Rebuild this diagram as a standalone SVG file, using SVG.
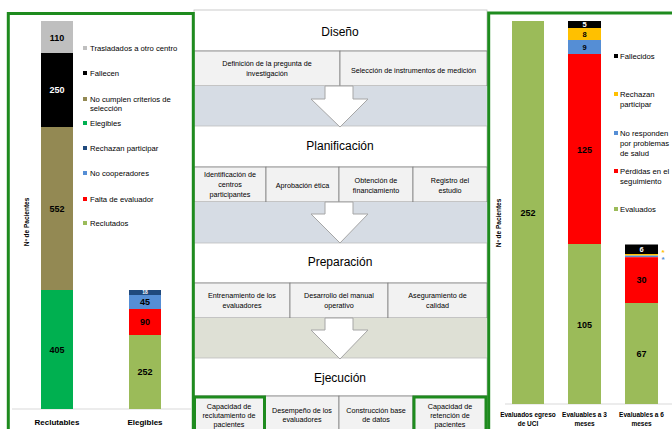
<svg xmlns="http://www.w3.org/2000/svg" width="672" height="429" viewBox="0 0 672 429">
<style>
text{font-family:"Liberation Sans",Arial,sans-serif;fill:#000}
.lg{font-size:7.7px}
.cell{font-size:7.2px;text-anchor:middle}
.ttl{font-size:12px;text-anchor:middle}
.num{font-size:9px;font-weight:bold;text-anchor:middle}
.cat{font-size:8px;font-weight:bold;text-anchor:middle}
.cat2{font-size:6.5px;font-weight:bold;text-anchor:middle}
.ax{font-size:6.5px;font-weight:bold;text-anchor:middle}
.w{fill:#fff}
.ast{font-size:8px;font-weight:bold;text-anchor:middle}
.ao{fill:#FFC000}
.ab{fill:#558ED5}
.box{fill:#F2F2F2;stroke:#7F7F7F;stroke-width:0.8}
.hdr{fill:#fff;stroke:#BFBFBF;stroke-width:0.8}
.arr{fill:#fff;stroke:#A6A6A6;stroke-width:1}
.gb{fill:none;stroke:#1E8B1E;stroke-width:3}
.axis{stroke:#D9D9D9;stroke-width:1}
</style>
<rect width="672" height="429" fill="#fff"/>

<!-- Center panel -->
<g id="center">
  <rect class="hdr" x="194" y="10" width="293" height="41"/>
  <text class="ttl" x="340" y="36">Diseño</text>
  <g id="diseno-cells">
    <rect class="box" x="194" y="51" width="146" height="35"/>
    <rect class="box" x="340" y="51" width="147" height="35"/>
    <text class="cell" x="267" y="66">Definición de la pregunta de</text>
    <text class="cell" x="267" y="76">investigación</text>
    <text class="cell" x="413.5" y="72.5">Selección de instrumentos de medición</text>
  </g>
  <rect x="194" y="86" width="293" height="40" fill="#D6DCE4"/>

  <rect class="hdr" x="194" y="126" width="293" height="41"/>
  <text class="ttl" x="340" y="150">Planificación</text>
  <g id="planificacion-cells">
    <rect class="box" x="194" y="167" width="72" height="35"/>
    <rect class="box" x="266" y="167" width="73" height="35"/>
    <rect class="box" x="339" y="167" width="74" height="35"/>
    <rect class="box" x="413" y="167" width="74" height="35"/>
    <text class="cell" x="230" y="176.5">Identificación de</text>
    <text class="cell" x="230" y="186.5">centros</text>
    <text class="cell" x="230" y="196.5">participantes</text>
    <text class="cell" x="302.5" y="187.5">Aprobación ética</text>
    <text class="cell" x="376" y="182.5">Obtención de</text>
    <text class="cell" x="376" y="192.5">financiamiento</text>
    <text class="cell" x="450" y="182.5">Registro del</text>
    <text class="cell" x="450" y="192.5">estudio</text>
  </g>
  <rect x="194" y="202" width="293" height="41" fill="#D6DCE4"/>

  <rect class="hdr" x="194" y="243" width="293" height="40"/>
  <text class="ttl" x="340" y="266">Preparación</text>
  <g id="preparacion-cells">
    <rect class="box" x="194" y="283" width="96" height="35"/>
    <rect class="box" x="290" y="283" width="98" height="35"/>
    <rect class="box" x="388" y="283" width="99" height="35"/>
    <text class="cell" x="242" y="297.5">Entrenamiento de los</text>
    <text class="cell" x="242" y="307.5">evaluadores</text>
    <text class="cell" x="339" y="297.5">Desarrollo del manual</text>
    <text class="cell" x="339" y="307.5">operativo</text>
    <text class="cell" x="437.5" y="297.5">Aseguramiento de</text>
    <text class="cell" x="437.5" y="307.5">calidad</text>
  </g>
  <rect x="194" y="318" width="293" height="40" fill="#DEE0D5"/>

  <rect class="hdr" x="194" y="358" width="293" height="38"/>
  <text class="ttl" x="340" y="382">Ejecución</text>
  <g id="ejecucion-cells">
    <rect class="box" x="194" y="396" width="71" height="40"/>
    <rect class="box" x="265" y="396" width="74" height="40"/>
    <rect class="box" x="339" y="396" width="74" height="40"/>
    <rect class="box" x="413" y="396" width="74" height="40"/>
    <text class="cell" x="229" y="408.5">Capacidad de</text>
    <text class="cell" x="229" y="417.5">reclutamiento de</text>
    <text class="cell" x="229" y="426.5">pacientes</text>
    <text class="cell" x="302" y="412.5">Desempeño de los</text>
    <text class="cell" x="302" y="421.5">evaluadores</text>
    <text class="cell" x="376" y="412.5">Construcción base</text>
    <text class="cell" x="376" y="421.5">de datos</text>
    <text class="cell" x="450" y="408.5">Capacidad de</text>
    <text class="cell" x="450" y="417.5">retención de</text>
    <text class="cell" x="450" y="426.5">pacientes</text>
    <rect class="gb" x="194.5" y="397" width="70" height="40"/>
    <rect class="gb" x="414" y="397" width="72" height="40"/>
  </g>
</g>

<g id="connectors">
  <polygon class="arr" points="325,86 353,86 353,99 368,99 340,127 311,99 325,99"/>
  <polygon class="arr" points="325,202 353,202 353,214 368,214 340,243 311,214 325,214"/>
  <polygon class="arr" points="325,318 353,318 353,330 368,330 340,359 311,330 325,330"/>
</g>

<!-- Left panel -->
<g id="left-chart">
  <line class="axis" x1="12" y1="409" x2="191" y2="409"/>
  <g id="bar-reclutables">
    <rect x="41" y="21" width="32" height="32" fill="#BFBFBF"/>
    <rect x="41" y="53" width="32" height="74" fill="#000"/>
    <rect x="41" y="127" width="32" height="163" fill="#938953"/>
    <rect x="41" y="290" width="32" height="119" fill="#00B050"/>
    <text class="num" x="57" y="41">110</text>
    <text class="num w" x="57" y="93">250</text>
    <text class="num" x="57" y="212">552</text>
    <text class="num" x="57" y="353">405</text>
  </g>
  <g id="bar-elegibles">
    <rect x="129" y="290" width="32" height="5" fill="#1F497D"/>
    <rect x="129" y="295" width="32" height="14" fill="#558ED5"/>
    <rect x="129" y="309" width="32" height="26" fill="#FF0000"/>
    <rect x="129" y="335" width="32" height="74" fill="#9BBB59"/>
    <text class="w" x="145" y="294.3" font-size="5" font-weight="bold" text-anchor="middle">18</text>
    <text class="num" x="145" y="305">45</text>
    <text class="num" x="145" y="325">90</text>
    <text class="num" x="145" y="375">252</text>
  </g>
  <text class="cat" x="57" y="425">Reclutables</text>
  <text class="cat" x="145" y="425">Elegibles</text>
  <text class="ax" transform="translate(28.5,222) rotate(-90)">Nº de Pacientes</text>
  <g id="left-legend">
    <rect x="83" y="46" width="4" height="4" fill="#BFBFBF"/><text class="lg" x="90" y="50.7">Trasladados a otro centro</text>
    <rect x="83" y="71" width="4" height="4" fill="#000"/><text class="lg" x="90" y="75.7">Fallecen</text>
    <rect x="83" y="97" width="4" height="4" fill="#938953"/><text class="lg" x="90" y="101.7">No cumplen criterios de</text><text class="lg" x="90" y="111">selección</text>
    <rect x="83" y="121" width="4" height="4" fill="#00B050"/><text class="lg" x="90" y="125.7">Elegibles</text>
    <rect x="83" y="146" width="4" height="4" fill="#1F497D"/><text class="lg" x="90" y="150.7">Rechazan participar</text>
    <rect x="83" y="171" width="4" height="4" fill="#558ED5"/><text class="lg" x="90" y="175.7">No cooperadores</text>
    <rect x="83" y="197" width="4" height="4" fill="#FF0000"/><text class="lg" x="90" y="201.7">Falta de evaluador</text>
    <rect x="83" y="221" width="4" height="4" fill="#9BBB59"/><text class="lg" x="90" y="225.7">Reclutados</text>
  </g>
  <path class="gb" d="M8.3,440 V13.5 H193.3 V440"/>
</g>

<!-- Right panel -->
<g id="right-chart">
  <line class="axis" x1="505" y1="404" x2="672" y2="404"/>
  <g id="bar-egreso">
    <rect x="512" y="21" width="32" height="383" fill="#9BBB59"/>
    <text class="num" x="528" y="216">252</text>
  </g>
  <g id="bar-3meses">
    <rect x="568" y="21" width="33" height="7" fill="#000"/>
    <rect x="568" y="28" width="33" height="12" fill="#FFC000"/>
    <rect x="568" y="40" width="33" height="14" fill="#558ED5"/>
    <rect x="568" y="54" width="33" height="190" fill="#FF0000"/>
    <rect x="568" y="244" width="33" height="160" fill="#9BBB59"/>
    <text class="w" x="584.5" y="27.3" font-size="7.5" font-weight="bold" text-anchor="middle">5</text>
    <text x="584.5" y="37.3" font-size="7.5" font-weight="bold" text-anchor="middle">8</text>
    <text x="584.5" y="50" font-size="7.5" font-weight="bold" text-anchor="middle">9</text>
    <text class="num" x="584.5" y="153">125</text>
    <text class="num" x="584.5" y="328">105</text>
  </g>
  <g id="bar-6meses">
    <rect x="625" y="244.5" width="33" height="9.5" fill="#000"/>
    <rect x="625" y="254" width="33" height="1.6" fill="#FFC000"/>
    <rect x="625" y="255.6" width="33" height="1.6" fill="#558ED5"/>
    <rect x="625" y="257.2" width="33" height="45.8" fill="#FF0000"/>
    <rect x="625" y="303" width="33" height="101" fill="#9BBB59"/>
    <text class="w" x="641.5" y="252.2" font-size="7.5" font-weight="bold" text-anchor="middle">6</text>
    <text class="num" x="641.5" y="283">30</text>
    <text class="num" x="641.5" y="357">67</text>
    <text class="ast ao" x="663" y="254.5">*</text>
    <text class="ast ab" x="663" y="262">*</text>
  </g>
  <text class="cat2" x="528" y="417">Evaluados egreso</text>
  <text class="cat2" x="528" y="426">de UCI</text>
  <text class="cat2" x="584.5" y="417">Evaluables a 3</text>
  <text class="cat2" x="584.5" y="426">meses</text>
  <text class="cat2" x="641.5" y="417">Evaluables a 6</text>
  <text class="cat2" x="641.5" y="426">meses</text>
  <text class="ax" transform="translate(500.5,223) rotate(-90)">Nº de Pacientes</text>
  <g id="right-legend">
    <rect x="614" y="54" width="4" height="4" fill="#000"/><text class="lg" x="620" y="58.7">Fallecidos</text>
    <rect x="614" y="92" width="4" height="4" fill="#FFC000"/><text class="lg" x="620" y="96.7">Rechazan</text><text class="lg" x="620" y="106.7">participar</text>
    <rect x="614" y="131" width="4" height="4" fill="#558ED5"/><text class="lg" x="620" y="135.7">No responden</text><text class="lg" x="620" y="145.7">por problemas</text><text class="lg" x="620" y="155.7">de salud</text>
    <rect x="614" y="169" width="4" height="4" fill="#FF0000"/><text class="lg" x="620" y="173.7">Pérdidas en el</text><text class="lg" x="620" y="183.7">seguimiento</text>
    <rect x="614" y="207" width="4" height="4" fill="#9BBB59"/><text class="lg" x="620" y="211.7">Evaluados</text>
  </g>
  <path class="gb" d="M488.7,440 V13 H680"/>
</g>
</svg>
